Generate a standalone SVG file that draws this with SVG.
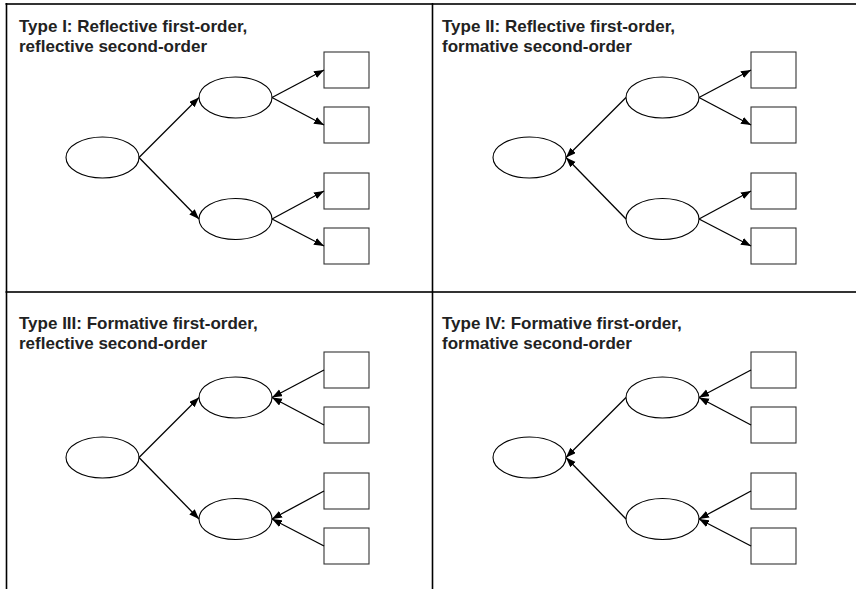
<svg xmlns="http://www.w3.org/2000/svg" width="856" height="589" viewBox="0 0 856 589">
<defs>
<marker id="ah" markerUnits="userSpaceOnUse" markerWidth="10" markerHeight="8" refX="10" refY="3.75" orient="auto">
<path d="M0,0 L10,3.75 L0,7.5 z" fill="#000"/>
</marker>
</defs>
<style>
.t{font-family:"Liberation Sans",Arial,sans-serif;font-weight:bold;font-size:17px;fill:#222}
.e{fill:#fff;stroke:#000;stroke-width:1.1}
.b{fill:#fff;stroke:#333;stroke-width:1.1}
.c{stroke:#000;stroke-width:1.3;fill:none;marker-end:url(#ah)}
.fr{stroke:#333;stroke-width:2;fill:none}
.fv{stroke:#000;stroke-width:1.6;fill:none}
</style>
<rect width="856" height="589" fill="#fff"/>
<g id="frame">
<line class="fr" x1="5.5" y1="4" x2="856" y2="4"/>
<line class="fr" x1="5.5" y1="292" x2="856" y2="292" stroke="#555"/>
<line class="fv" x1="6.5" y1="3" x2="6.5" y2="589"/>
<line class="fv" x1="432.5" y1="3" x2="432.5" y2="589"/>
</g>
<g id="titles">
<text class="t" x="19" y="32">Type I: Reflective first-order,</text>
<text class="t" x="19" y="52">reflective second-order</text>
<text class="t" x="442" y="32">Type II: Reflective first-order,</text>
<text class="t" x="442" y="52">formative second-order</text>
<text class="t" x="19" y="329">Type III: Formative first-order,</text>
<text class="t" x="19" y="349">reflective second-order</text>
<text class="t" x="442" y="329">Type IV: Formative first-order,</text>
<text class="t" x="442" y="349">formative second-order</text>
</g>
<g id="p1">
<ellipse id="p1-f" class="e" cx="102.5" cy="157.5" rx="36.5" ry="20.5"/>
<ellipse id="p1-a" class="e" cx="235.5" cy="97.5" rx="36.5" ry="20.5"/>
<ellipse id="p1-b" class="e" cx="235.5" cy="219" rx="36.5" ry="20.5"/>
<rect id="p1-i1" class="b" x="324" y="52" width="45" height="36"/>
<rect id="p1-i2" class="b" x="324" y="107" width="45" height="36"/>
<rect id="p1-i3" class="b" x="324" y="173" width="45" height="36"/>
<rect id="p1-i4" class="b" x="324" y="228" width="45" height="36"/>
</g>
<g id="p2">
<ellipse id="p2-f" class="e" cx="529.5" cy="157.5" rx="36.5" ry="20.5"/>
<ellipse id="p2-a" class="e" cx="662.5" cy="97.5" rx="36.5" ry="20.5"/>
<ellipse id="p2-b" class="e" cx="662.5" cy="219" rx="36.5" ry="20.5"/>
<rect id="p2-i1" class="b" x="751" y="52" width="45" height="36"/>
<rect id="p2-i2" class="b" x="751" y="107" width="45" height="36"/>
<rect id="p2-i3" class="b" x="751" y="173" width="45" height="36"/>
<rect id="p2-i4" class="b" x="751" y="228" width="45" height="36"/>
</g>
<g id="p3">
<ellipse id="p3-f" class="e" cx="102.5" cy="457.5" rx="36.5" ry="20.5"/>
<ellipse id="p3-a" class="e" cx="235.5" cy="397.5" rx="36.5" ry="20.5"/>
<ellipse id="p3-b" class="e" cx="235.5" cy="519" rx="36.5" ry="20.5"/>
<rect id="p3-i1" class="b" x="324" y="352" width="45" height="36"/>
<rect id="p3-i2" class="b" x="324" y="407" width="45" height="36"/>
<rect id="p3-i3" class="b" x="324" y="473" width="45" height="36"/>
<rect id="p3-i4" class="b" x="324" y="528" width="45" height="36"/>
</g>
<g id="p4">
<ellipse id="p4-f" class="e" cx="529.5" cy="457.5" rx="36.5" ry="20.5"/>
<ellipse id="p4-a" class="e" cx="662.5" cy="397.5" rx="36.5" ry="20.5"/>
<ellipse id="p4-b" class="e" cx="662.5" cy="519" rx="36.5" ry="20.5"/>
<rect id="p4-i1" class="b" x="751" y="352" width="45" height="36"/>
<rect id="p4-i2" class="b" x="751" y="407" width="45" height="36"/>
<rect id="p4-i3" class="b" x="751" y="473" width="45" height="36"/>
<rect id="p4-i4" class="b" x="751" y="528" width="45" height="36"/>
</g>
<g id="connectors">
<line class="c" x1="139" y1="157.5" x2="199" y2="97.5"/>
<line class="c" x1="139" y1="157.5" x2="199" y2="219"/>
<line class="c" x1="272" y1="97.5" x2="324" y2="70"/>
<line class="c" x1="272" y1="97.5" x2="324" y2="125"/>
<line class="c" x1="272" y1="219" x2="324" y2="191"/>
<line class="c" x1="272" y1="219" x2="324" y2="246"/>

<line class="c" x1="626" y1="97.5" x2="566" y2="157.5"/>
<line class="c" x1="626" y1="219" x2="566" y2="157.5"/>
<line class="c" x1="699" y1="97.5" x2="751" y2="70"/>
<line class="c" x1="699" y1="97.5" x2="751" y2="125"/>
<line class="c" x1="699" y1="219" x2="751" y2="191"/>
<line class="c" x1="699" y1="219" x2="751" y2="246"/>

<line class="c" x1="139" y1="457.5" x2="199" y2="397.5"/>
<line class="c" x1="139" y1="457.5" x2="199" y2="519"/>
<line class="c" x1="324" y1="370" x2="272" y2="397.5"/>
<line class="c" x1="324" y1="425" x2="272" y2="397.5"/>
<line class="c" x1="324" y1="491" x2="272" y2="519"/>
<line class="c" x1="324" y1="546" x2="272" y2="519"/>

<line class="c" x1="626" y1="397.5" x2="566" y2="457.5"/>
<line class="c" x1="626" y1="519" x2="566" y2="457.5"/>
<line class="c" x1="751" y1="370" x2="699" y2="397.5"/>
<line class="c" x1="751" y1="425" x2="699" y2="397.5"/>
<line class="c" x1="751" y1="491" x2="699" y2="519"/>
<line class="c" x1="751" y1="546" x2="699" y2="519"/>
</g>
</svg>
